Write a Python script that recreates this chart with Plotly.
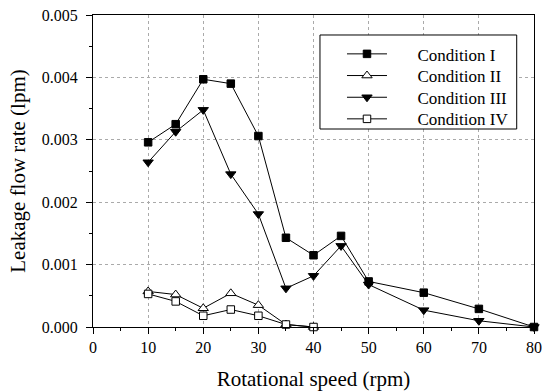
import plotly.graph_objects as go

speed = [10, 15, 20, 25, 30, 35, 40, 45, 50, 60, 70, 80]
cond1 = [0.00296, 0.00325, 0.00397, 0.00390, 0.00306, 0.00143, 0.00115, 0.00146, 0.00073, 0.00055, 0.00029, 0.0]
cond3 = [0.00264, 0.00313, 0.00348, 0.00245, 0.00181, 0.00062, 0.00082, 0.00130, 0.00068, 0.00027, 0.00010, 0.0]
speed_low = [10, 15, 20, 25, 30, 35, 40]
cond2 = [0.00057, 0.00052, 0.00030, 0.00054, 0.00035, 0.00004, 0.0]
cond4 = [0.00053, 0.00041, 0.00018, 0.00028, 0.00018, 0.00004, 0.0]
names = ["Condition I", "Condition II", "Condition III", "Condition IV"]

font = "Liberation Serif, Times New Roman, serif"
pad = "\u00a0" * 6
fig = go.Figure()
series = [
    (names[0], speed, cond1, "square", "black", 7.5),
    (names[1], speed_low, cond2, "triangle-up", "white", 9),
    (names[2], speed, cond3, "triangle-down", "black", 9),
    (names[3], speed_low, cond4, "square", "white", 7.5),
]
legend_ids = ["legend", "legend2", "legend3", "legend4"]
for (name, xs, ys, sym, fill, sz), lid in zip(series, legend_ids):
    fig.add_trace(go.Scatter(
        x=xs, y=ys, name=pad + name, mode="lines+markers",
        line=dict(color="black", width=1),
        marker=dict(symbol=sym, size=sz, color=fill,
                    line=dict(color="black", width=1)),
        cliponaxis=False, legend=lid, showlegend=True,
    ))

axis_common = dict(
    showline=True, linecolor="black", linewidth=1, mirror=True,
    ticks="outside", ticklen=6, tickcolor="black",
    showgrid=True, gridcolor="#aaaaaa", griddash="dot", gridwidth=1,
    zeroline=False, automargin=False,
    tickfont=dict(family=font, size=16, color="black"),
)
fig.update_xaxes(range=[0, 80], dtick=10, tick0=0,
                 minor=dict(dtick=5, ticks="outside", ticklen=3, tickcolor="black", showgrid=False),
                 title=dict(text="Rotational speed (rpm)", font=dict(family=font, size=21, color="black"), standoff=16),
                 **axis_common)
fig.update_yaxes(range=[0, 0.005], dtick=0.001, tickformat=".3f", ticklabelstandoff=5,
                 minor=dict(dtick=0.0005, ticks="outside", ticklen=3, tickcolor="black", showgrid=False),
                 title=dict(text="Leakage flow rate (lpm)", font=dict(family=font, size=21, color="black"), standoff=10),
                 **axis_common)
fig.add_shape(type="rect", xref="paper", yref="paper",
              x0=0.5147, x1=0.9608, y0=0.6346, y1=0.9359,
              line=dict(color="black", width=1), fillcolor="white", layer="above")

legend_y = [0.8740, 0.8045, 0.7349, 0.6657]
legend_layout = {}
for lid, ly in zip(legend_ids, legend_y):
    legend_layout[lid] = dict(x=0.5646, y=ly, xanchor="left", yanchor="middle",
                              bgcolor="rgba(0,0,0,0)", borderwidth=0,
                              font=dict(family=font, size=17, color="black"),
                              itemwidth=40, visible=True)
fig.update_layout(
    width=542, height=391,
    margin=dict(l=93, r=8, t=15, b=64),
    plot_bgcolor="white", paper_bgcolor="white",
    showlegend=True,
    **legend_layout,
)
fig.write_html("out.html")
